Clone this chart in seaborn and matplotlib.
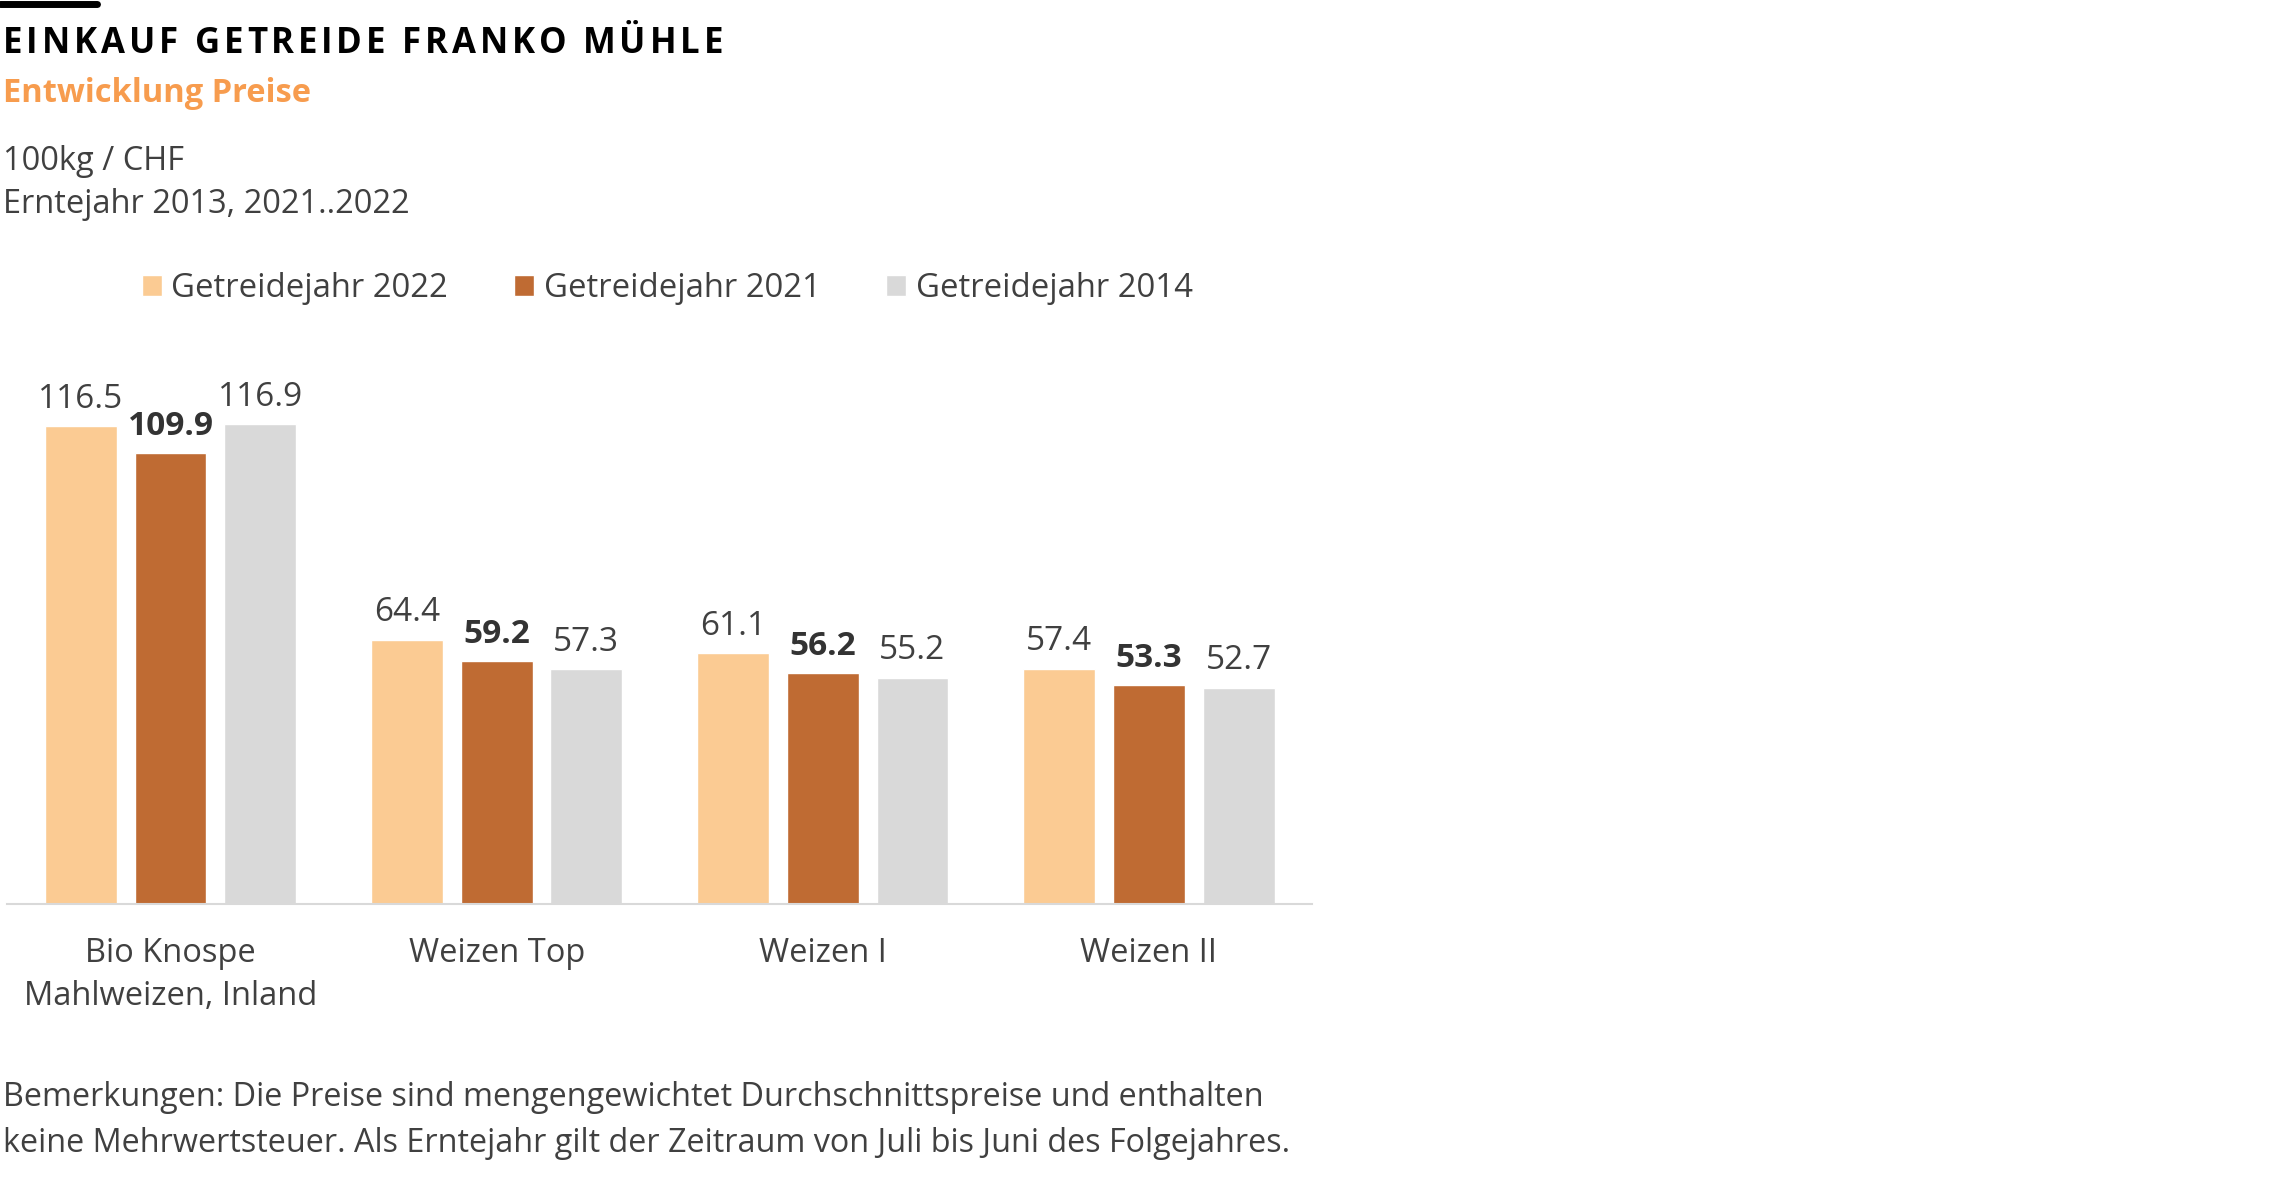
import matplotlib
matplotlib.use("Agg")
import matplotlib.pyplot as plt
import seaborn as sns
import pandas as pd

categories = ["Bio Knospe\nMahlweizen, Inland", "Weizen Top", "Weizen I", "Weizen II"]
years = ["Getreidejahr 2022", "Getreidejahr 2021", "Getreidejahr 2014"]
p2022 = [116.5, 64.4, 61.1, 57.4]
p2021 = [109.9, 59.2, 56.2, 53.3]
p2014 = [116.9, 57.3, 55.2, 52.7]
colors = ["#FBCB93", "#BF6B33", "#D9D9D9"]

df = pd.DataFrame({
    "Sorte": categories * 3,
    "Jahr": [years[0]] * 4 + [years[1]] * 4 + [years[2]] * 4,
    "Preis": p2022 + p2021 + p2014,
})

sns.set_style("white")
plt.rcParams["font.family"] = ["Open Sans", "DejaVu Sans"]
text_col = "#404040"

fig = plt.figure(figsize=(22.9, 11.9), dpi=100)
ax = fig.add_axes([0.00323, 0.2403, 0.5697, 0.4482])

sns.barplot(data=df, x="Sorte", y="Preis", hue="Jahr", hue_order=years,
            palette=colors, width=0.825, gap=0.2, saturation=1,
            ax=ax, legend=True)

ax.set_xlim(-0.5, 3.5)
ax.set_ylim(0, 130)
ax.set_xlabel("")
ax.set_ylabel("")
ax.set_yticks([])
for s in ["top", "right", "left"]:
    ax.spines[s].set_visible(False)
ax.spines["bottom"].set_color("#D9D9D9")
ax.spines["bottom"].set_linewidth(1.5)
ax.tick_params(axis="x", length=0, pad=24, labelsize=23.5, labelcolor=text_col)
for lab in ax.get_xticklabels():
    lab.set_linespacing(1.38)

for i, cont in enumerate(ax.containers):
    ax.bar_label(cont, fmt="%.1f", padding=7.5, fontsize=24,
                 color="#333333" if i == 1 else text_col,
                 fontweight="bold" if i == 1 else "normal")

handles, labels = ax.get_legend_handles_labels()
ax.get_legend().remove()
fig.legend(handles, labels, loc="center left", bbox_to_anchor=(0.049, 0.7575),
           ncol=3, frameon=False, fontsize=23.7, labelcolor=text_col,
           handlelength=0.6, handleheight=0.6, handletextpad=0.3,
           columnspacing=2.0)

# header bar
fig.add_artist(plt.Line2D([0.0, 0.0424], [0.997, 0.997], color="black", linewidth=5))

# title with letter spacing, drawn char by char
title = "EINKAUF GETREIDE FRANKO MÜHLE"
renderer = fig.canvas.get_renderer()
tprops = dict(fontsize=25, fontweight="bold", color="black", va="baseline")

def text_width(s):
    t = fig.text(0, 0, s, **tprops)
    w = t.get_window_extent(renderer).width
    t.remove()
    return w

widths = []
for ch in title:
    if ch == " ":
        widths.append(text_width("E E") - text_width("EE"))
    else:
        widths.append(text_width(ch))
x_start, x_end = 3.0, 723.0
track = (x_end - x_start - sum(widths)) / (len(title) - 1)
xpos = x_start
for ch, w in zip(title, widths):
    if ch != " ":
        fig.text(xpos / 2290, 0.9555, ch, **tprops)
    xpos += w + track

fig.text(0.0013, 0.914, "Entwicklung Preise", fontsize=23.5, fontweight="bold",
         color="#F79C4E", va="baseline")
fig.text(0.0013, 0.857, "100kg / CHF", fontsize=23.5, color=text_col, va="baseline")
fig.text(0.0013, 0.821, "Erntejahr 2013, 2021..2022", fontsize=23.5, color=text_col, va="baseline")

fig.text(0.0013, 0.0706,
         "Bemerkungen: Die Preise sind mengengewichtet Durchschnittspreise und enthalten",
         fontsize=23.3, color=text_col, va="baseline")
fig.text(0.0013, 0.032,
         "keine Mehrwertsteuer. Als Erntejahr gilt der Zeitraum von Juli bis Juni des Folgejahres.",
         fontsize=23.3, color=text_col, va="baseline")

fig.savefig("out.png", dpi=100, facecolor="white")
